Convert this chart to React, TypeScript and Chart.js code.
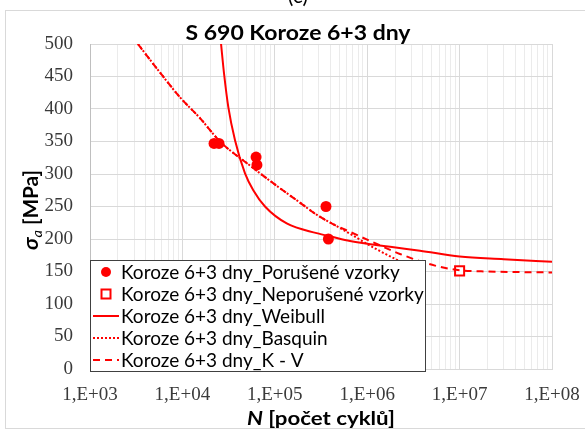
import { useEffect, useRef } from "react";
import { Chart, registerables } from "chart.js";

Chart.register(...registerables);

// Failed specimens: cycles to failure and stress amplitude [MPa]
const failedCycles = [22000, 24900, 62700, 64100, 358000, 380000];
const failedStress = [347, 347, 326, 314, 250, 200];

// Run-out specimen
const runoutCycles = [1e7];
const runoutStress = [151];

// Weibull fit
const weibullCycles = [26200, 28200, 31400, 37100, 47600, 58500, 78300, 134600, 284000, 426000, 651000, 1770000, 3730000, 1e7, 3e7, 1e8];
const weibullStress = [500, 455, 403, 352, 301, 275, 250, 224, 209, 203, 197, 188, 182, 173, 169, 165];

// Basquin fit
const basquinCycles = [3300, 5310, 9420, 15500, 25500, 53900, 100000, 187000, 286000, 426000, 651000, 1200000, 2100000, 2500000];
const basquinStress = [500, 462, 418, 386, 350, 313, 284, 256, 237, 223, 208, 186, 168, 163];

// Kohout–Věchet fit
const kvCycles = [3300, 5310, 9420, 15500, 25500, 53900, 100000, 187000, 286000, 426000, 651000, 1200000, 2260000, 5420000, 1e7, 2e7, 1e8];
const kvStress = [500, 462, 418, 386, 350, 313, 284, 256, 237, 223, 211, 194, 177, 159, 152, 150, 148.5];

// Axis ticks
const decadeValues = [1e3, 1e4, 1e5, 1e6, 1e7, 1e8];
const decadeLabels = ["1,E+03", "1,E+04", "1,E+05", "1,E+06", "1,E+07", "1,E+08"];
const stressTicks = [0, 50, 100, 150, 200, 250, 300, 350, 400, 450, 500];

const RED = "#ff0000";
const SERIF = "'Liberation Serif', 'Times New Roman', serif";
const SANS = "Lato, 'Open Sans', sans-serif";

const pts = (xs: number[], ys: number[]) => xs.map((x, i) => ({ x, y: ys[i] }));

// draws a run of text pieces horizontally squeezed/stretched to a given width
type Piece = { text: string; font: string; dy?: number };
function drawPieces(ctx: CanvasRenderingContext2D, pieces: Piece[], cx: number, baseY: number, targetW: number) {
  let w = 0;
  const widths = pieces.map((p) => {
    ctx.font = p.font;
    const m = ctx.measureText(p.text).width;
    w += m;
    return m;
  });
  const sx = targetW / w;
  ctx.save();
  ctx.translate(cx, baseY);
  ctx.scale(sx, 1);
  let x = -w / 2;
  ctx.textBaseline = "alphabetic";
  ctx.textAlign = "left";
  pieces.forEach((p, i) => {
    ctx.font = p.font;
    ctx.fillText(p.text, x, p.dy || 0);
    x += widths[i];
  });
  ctx.restore();
}

const decorPlugin = {
  id: "decor",
  beforeDraw(chart: any) {
    const ctx: CanvasRenderingContext2D = chart.ctx;
    ctx.save();
    ctx.fillStyle = "#ffffff";
    ctx.fillRect(0, 0, chart.width, chart.height);
    ctx.strokeStyle = "#d9d9d9";
    ctx.lineWidth = 1;
    ctx.strokeRect(5.5, 10.5, 640, 418);
    ctx.fillStyle = "#000000";
    ctx.font = `21px ${SANS}`;
    ctx.textAlign = "center";
    ctx.textBaseline = "alphabetic";
    ctx.fillText("(c)", 298, 3);
    drawPieces(ctx, [{ text: "S 690 Koroze 6+3 dny", font: `bold 20px ${SANS}` }], 298, 40, 225);
    ctx.restore();
  },
  afterDraw(chart: any) {
    const ctx: CanvasRenderingContext2D = chart.ctx;
    ctx.save();
    ctx.fillStyle = "#000000";
    // x axis title
    drawPieces(
      ctx,
      [
        { text: "N", font: `italic bold 19px ${SANS}` },
        { text: " [počet cyklů]", font: `bold 19px ${SANS}` },
      ],
      321,
      425,
      148
    );
    // y axis title
    ctx.save();
    ctx.translate(38, 210);
    ctx.rotate(-Math.PI / 2);
    drawPieces(
      ctx,
      [
        { text: "σ", font: `italic bold 21px ${SANS}` },
        { text: "a", font: `italic 14px ${SANS}`, dy: 4 },
        { text: " [MPa]", font: `bold 20px ${SANS}` },
      ],
      0,
      0,
      80
    );
    ctx.restore();

    // legend box
    const bx = 90.5, by = 260.5, bw = 335, bh = 111;
    ctx.fillStyle = "#ffffff";
    ctx.fillRect(bx, by, bw, bh);
    ctx.strokeStyle = "#404040";
    ctx.lineWidth = 1;
    ctx.strokeRect(bx, by, bw, bh);
    const order = [3, 4, 0, 1, 2];
    order.forEach((di, row) => {
      const ds = chart.data.datasets[di];
      const cy = 272 + row * 22;
      ctx.setLineDash([]);
      if (ds.showLine) {
        ctx.strokeStyle = RED;
        ctx.lineWidth = 2;
        ctx.setLineDash(ds.borderDash || []);
        ctx.beginPath();
        ctx.moveTo(93, cy);
        ctx.lineTo(119, cy);
        ctx.stroke();
        ctx.setLineDash([]);
      } else if (ds.pointStyle === "rect") {
        ctx.fillStyle = "#ffffff";
        ctx.fillRect(101.5, cy - 4.5, 9, 9);
        ctx.strokeStyle = RED;
        ctx.lineWidth = 2;
        ctx.strokeRect(101.5, cy - 4.5, 9, 9);
      } else {
        ctx.fillStyle = RED;
        ctx.beginPath();
        ctx.arc(106, cy, 5, 0, Math.PI * 2);
        ctx.fill();
      }
      ctx.fillStyle = "#000000";
      ctx.font = `19px ${SANS}`;
      ctx.textAlign = "left";
      ctx.textBaseline = "middle";
      ctx.fillText(ds.label, 121, cy + 1);
    });
    ctx.restore();
  },
};

export default function App() {
  const ref = useRef<HTMLCanvasElement | null>(null);

  useEffect(() => {
    if (!ref.current) return;
    const chart = new Chart(ref.current, {
      type: "scatter",
      data: {
        datasets: [
          {
            label: "Koroze 6+3 dny_Weibull",
            data: pts(weibullCycles, weibullStress),
            showLine: true,
            borderColor: RED,
            borderWidth: 2,
            pointRadius: 0,
            cubicInterpolationMode: "monotone",
          },
          {
            label: "Koroze 6+3 dny_Basquin",
            data: pts(basquinCycles, basquinStress),
            showLine: true,
            borderColor: RED,
            borderWidth: 2,
            borderDash: [2, 2],
            pointRadius: 0,
            cubicInterpolationMode: "monotone",
          },
          {
            label: "Koroze 6+3 dny_K - V",
            data: pts(kvCycles, kvStress),
            showLine: true,
            borderColor: RED,
            borderWidth: 2,
            borderDash: [7, 5],
            pointRadius: 0,
            cubicInterpolationMode: "monotone",
          },
          {
            label: "Koroze 6+3 dny_Porušené vzorky",
            data: pts(failedCycles, failedStress),
            showLine: false,
            pointStyle: "circle",
            pointRadius: 5.5,
            backgroundColor: RED,
            borderColor: RED,
            borderWidth: 0,
          },
          {
            label: "Koroze 6+3 dny_Neporušené vzorky",
            data: pts(runoutCycles, runoutStress),
            showLine: false,
            pointStyle: "rect",
            pointRadius: 6.4,
            backgroundColor: "#ffffff",
            borderColor: RED,
            borderWidth: 2,
          },
        ],
      },
      options: {
        animation: false,
        responsive: false,
        maintainAspectRatio: false,
        devicePixelRatio: 1,
        layout: { padding: { left: 0, top: 44, right: 33, bottom: 0 } },
        plugins: {
          legend: { display: false },
          tooltip: { enabled: false },
          title: { display: false },
        },
        scales: {
          x: {
            type: "logarithmic",
            min: decadeValues[0],
            max: decadeValues[decadeValues.length - 1],
            afterBuildTicks: (scale: any) => {
              const t: { value: number }[] = [];
              decadeValues.forEach((d, i) => {
                if (i === decadeValues.length - 1) {
                  t.push({ value: d });
                  return;
                }
                for (let m = 1; m <= 9; m++) t.push({ value: m * d });
              });
              scale.ticks = t;
            },
            afterFit: (scale: any) => {
              scale.height = 62;
              scale.paddingLeft = 0;
              scale.paddingRight = 0;
            },
            ticks: {
              autoSkip: false,
              maxRotation: 0,
              minRotation: 0,
              padding: 15,
              color: "#3a3a3a",
              font: { family: SERIF, size: 19 },
              callback: (v: any) => {
                const i = decadeValues.indexOf(Number(v));
                return i >= 0 ? decadeLabels[i] : "";
              },
            },
            grid: {
              drawTicks: false,
              color: (c: any) =>
                c.tick && decadeValues.indexOf(c.tick.value) >= 0 ? "#d9d9d9" : "#ebebeb",
            },
            border: { color: "#d9d9d9" },
          },
          y: {
            min: 0,
            max: 500,
            afterBuildTicks: (scale: any) => {
              scale.ticks = stressTicks.map((v) => ({ value: v }));
            },
            afterFit: (scale: any) => {
              scale.width = 90;
              scale.paddingTop = 0;
              scale.paddingBottom = 0;
            },
            ticks: {
              padding: 17,
              color: "#3a3a3a",
              font: { family: SERIF, size: 19 },
            },
            grid: { drawTicks: false, color: "#d9d9d9" },
            border: { color: "#bfbfbf" },
          },
        },
      },
      plugins: [decorPlugin],
    } as any);
    return () => chart.destroy();
  }, []);

  return (
    <div style={{ position: "fixed", left: 0, top: 0, width: 585, height: 431 }}>
      <canvas ref={ref} width={585} height={431} style={{ display: "block", width: 585, height: 431 }} />
    </div>
  );
}
